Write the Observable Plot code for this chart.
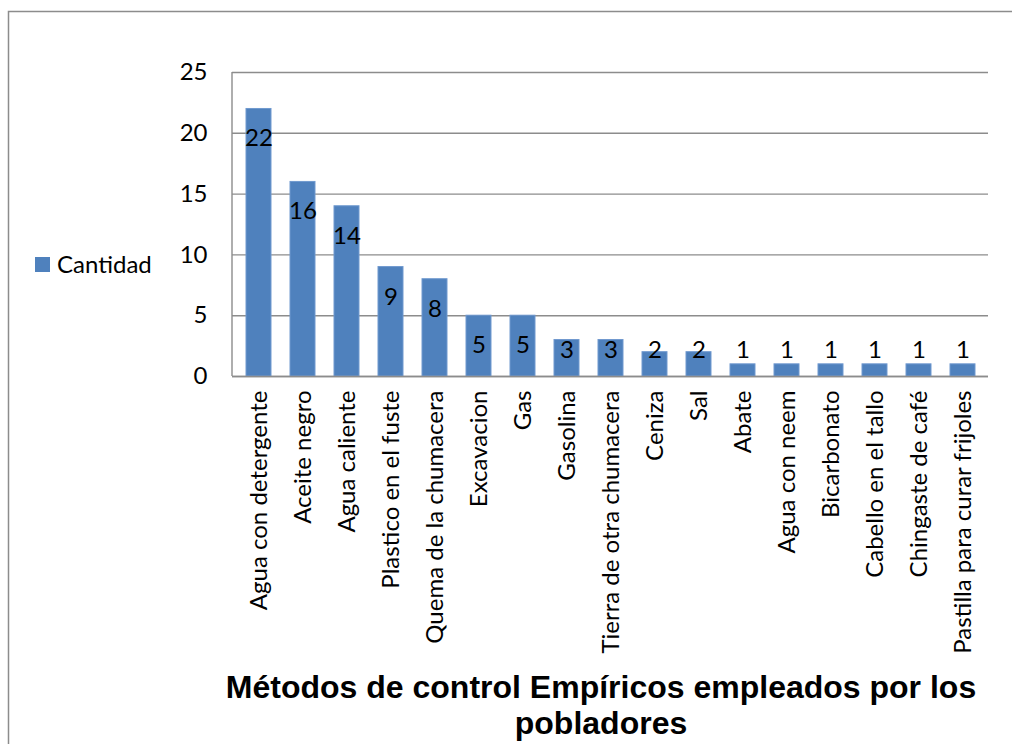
<!DOCTYPE html>
<html>
<head>
<meta charset="utf-8">
<script src="https://cdn.jsdelivr.net/npm/d3@7"></script>
<script src="https://cdn.jsdelivr.net/npm/@observablehq/plot@0.6"></script>
<style>
  html, body { margin: 0; padding: 0; background: #fff; }
  #chart { width: 1012px; height: 744px; overflow: hidden; }
</style>
</head>
<body>
<div id="chart"></div>
<script>
const categories = [
  "Agua con detergente", "Aceite negro", "Agua caliente", "Plastico en el fuste",
  "Quema de la chumacera", "Excavacion", "Gas", "Gasolina", "Tierra de otra chumacera",
  "Ceniza", "Sal", "Abate", "Agua con neem", "Bicarbonato", "Cabello en el tallo",
  "Chingaste de café", "Pastilla para curar frijoles"
];
const cantidad = [22, 16, 14, 9, 8, 5, 5, 3, 3, 2, 2, 1, 1, 1, 1, 1, 1];
const yTicks = [0, 5, 10, 15, 20, 25];
const seriesName = "Cantidad";
const titleLines = ["Métodos de control Empíricos empleados por los", "pobladores"];

const data = categories.map((c, i) => ({ cat: c, v: cantidad[i] }));
const FONT = "Lato, 'Open Sans', sans-serif";

const W = 1012, H = 744;
const plot = Plot.plot({
  width: W,
  height: H,
  marginLeft: 232,
  marginRight: 24,
  marginTop: 72,
  marginBottom: 368,
  style: { fontFamily: FONT, fontSize: "24px", color: "#000", background: "#fff", overflow: "visible" },
  x: { domain: categories, paddingInner: 0.44, paddingOuter: 0.22, label: null },
  y: { domain: [0, 25], label: null },
  marks: [
    Plot.gridY(yTicks, { stroke: "#8c8c8c", strokeOpacity: 1, strokeWidth: 1.4 }),
    Plot.barY(data, { x: "cat", y: "v", fill: "#4f81bd", stroke: "#7099cf", strokeWidth: 1 }),
    Plot.ruleY([0], { stroke: "#8c8c8c", strokeWidth: 1.4 }),
    Plot.axisY(yTicks, { tickSize: 0, tickPadding: 25, fontSize: 24, fill: "#000" }),
    Plot.axisX({ tickSize: 0, tickPadding: 14, tickRotate: -90, fontSize: 24, fill: "#000" }),
    Plot.text(data, {
      x: "cat",
      y: d => Math.max(d.v - 2.45, 2.15),
      text: d => String(d.v),
      fontSize: 24,
      fill: "#000",
      lineAnchor: "middle"
    })
  ]
});

document.getElementById("chart").appendChild(plot);
const svg = d3.select(plot);
const ys = plot.scale("y");
const left = 232;

// Left axis vertical line from the y scale
svg.append("line")
  .attr("x1", left).attr("x2", left)
  .attr("y1", ys.apply(25)).attr("y2", ys.apply(0))
  .attr("stroke", "#8c8c8c").attr("stroke-width", 1.4);

// Outer frame
svg.append("rect")
  .attr("x", 8.5).attr("y", 11.5).attr("width", 1100).attr("height", 900)
  .attr("fill", "none").attr("stroke", "#8c8c8c").attr("stroke-width", 1.5);

// Legend
const lg = svg.append("g").attr("aria-label", "legend");
lg.append("rect").attr("x", 35).attr("y", 257).attr("width", 15).attr("height", 15).attr("fill", "#4f81bd");
lg.append("text").attr("x", 57).attr("y", 265).attr("dy", "0.35em")
  .attr("text-anchor", "start")
  .attr("font-family", FONT).attr("font-size", 24).attr("fill", "#000").text(seriesName);

// Title
const tg = svg.append("g").attr("aria-label", "title");
titleLines.forEach((t, i) => {
  tg.append("text").attr("x", 601).attr("y", 698 + i * 36)
    .attr("text-anchor", "middle")
    .attr("font-family", "'Liberation Sans', Arial, sans-serif")
    .attr("font-weight", "bold").attr("font-size", 32).attr("fill", "#000").text(t);
});
</script>
</body>
</html>
